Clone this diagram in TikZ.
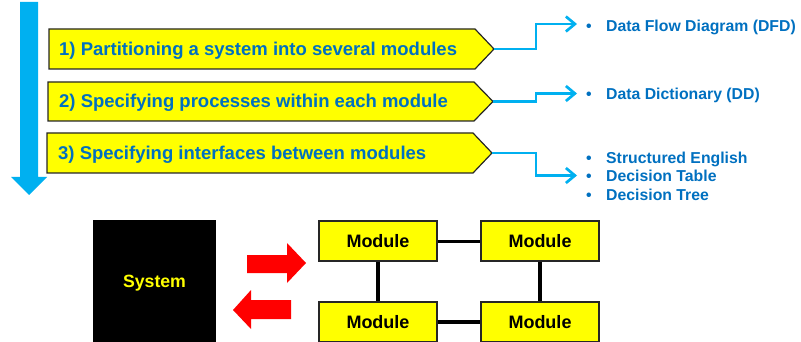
\documentclass[tikz,border=0pt]{standalone}
\usepackage{fontspec}
\setmainfont{Liberation Sans}
\usetikzlibrary{arrows.meta}
\definecolor{stepblue}{HTML}{0070C0}
\definecolor{flowcyan}{HTML}{00B0F0}
\definecolor{boxyellow}{HTML}{FFFF00}
\definecolor{hotred}{HTML}{FF0000}
\begin{document}
\begin{tikzpicture}[x=1pt,y=-1pt,
  stepshape/.style={fill=boxyellow,draw=black!85,line width=1.2pt},
  steptext/.style={anchor=base west,inner sep=0pt,text=stepblue,
    font=\fontsize{18.5}{22}\selectfont\bfseries},
  itemtext/.style={anchor=base west,inner sep=0pt,text=stepblue,
    font=\fontsize{15.8}{18.5}\selectfont\bfseries},
  link/.style={flowcyan,line width=2.7pt,-{Straight Barb[length=9pt,width=15pt]}},
  module/.style={draw=black!85,line width=1.3pt,fill=boxyellow,minimum width=118pt,
    minimum height=40pt,inner sep=0pt,text depth=0pt,font=\fontsize{18}{20}\selectfont\bfseries},
  wire/.style={line width=4pt,black},
  redarrow/.style={fill=hotred,draw=none}]
\useasboundingbox (0,0) rectangle (801,342);

% downward progress arrow
\fill[flowcyan] (20,2) -- (38,2) -- (38,177) -- (47,177) -- (29,195) -- (11,177) -- (20,177) -- cycle;

% the three steps
\draw[stepshape] (49,29) -- (475,29) -- (494,49) -- (475,69) -- (49,69) -- cycle;
\coordinate (p1) at (494,49);
\node[steptext] (s1) at (59,56) {1) Partitioning a system into several modules};

\draw[stepshape] (48,82) -- (474,82) -- (493,101.5) -- (474,121) -- (48,121) -- cycle;
\coordinate (p2) at (493,101.5);
\node[steptext] (s2) at (59,108) {2) Specifying processes within each module};

\draw[stepshape] (47,133) -- (473,133) -- (492,153) -- (473,173) -- (47,173) -- cycle;
\coordinate (p3) at (492,153);
\node[steptext] (s3) at (58,160) {3) Specifying interfaces between modules};

% techniques for each step
\coordinate (i1) at (577,24);
\coordinate (i2) at (577,93.5);
\coordinate (i3) at (577,175.5);
\node[itemtext] (b1) at (586,31.7) {\textbullet};
\node[itemtext] (t1) at (606,31.7) {Data Flow Diagram (DFD)};
\node[itemtext] (b2) at (586,100) {\textbullet};
\node[itemtext] (t2) at (606,100) {Data Dictionary (DD)};
\node[itemtext] (b3) at (586,163.5) {\textbullet};
\node[itemtext] (t3) at (606,163.5) {Structured English};
\node[itemtext] (b4) at (586,182) {\textbullet};
\node[itemtext] (t4) at (606,182) {Decision Table};
\node[itemtext] (b5) at (586,200.5) {\textbullet};
\node[itemtext] (t5) at (606,200.5) {Decision Tree};

\draw[link] (p1) -- ++(42,0) |- (i1);
\draw[link] (p2) -- ++(43,0) |- (i2);
\draw[link] (p3) -- ++(44,0) |- (i3);

% system and its modules
\node[fill=black,inner sep=0pt,minimum width=123pt,minimum height=122pt,text depth=0pt,
  text=boxyellow,font=\fontsize{17.7}{20}\selectfont\bfseries] (sys) at (154.5,281) {System};

\fill[redarrow] (247,255) -- (287,255) -- (287,243) -- (306,263) -- (287,283) -- (287,273) -- (247,273) -- cycle;
\fill[redarrow] (291,300) -- (251,300) -- (251,290) -- (233,310) -- (251,329) -- (251,319) -- (291,319) -- cycle;

\node[module] (m1) at (378,241) {Module};
\node[module] (m2) at (540,241) {Module};
\node[module] (m3) at (378,322) {Module};
\node[module] (m4) at (540,322) {Module};

\draw[wire,line width=3pt] (m1) -- (m2);
\draw[wire] (m1) -- (m3);
\draw[wire] (m2) -- (m4);
\draw[wire] (m3) -- (m4);
\end{tikzpicture}
\end{document}
